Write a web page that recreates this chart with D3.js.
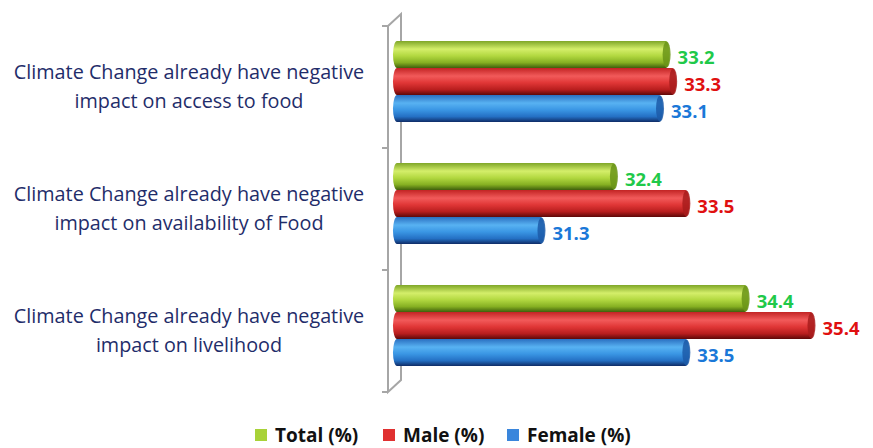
<!doctype html>
<meta charset="utf-8" />
<script src="https://cdn.jsdelivr.net/npm/d3@7"></script>
<style>
    body { margin: 0; background: white; }
    svg { display: block; font-family: "Open Sans", sans-serif; }
</style>
<svg id="chart"></svg>
<script>
    var categories = [
        ['Climate Change already have negative', 'impact on access to food'],
        ['Climate Change already have negative', 'impact on availability of Food'],
        ['Climate Change already have negative', 'impact on livelihood']
    ];
    var seriesNames = ['Total (%)', 'Male (%)', 'Female (%)'];
    var total = [33.2, 32.4, 34.4];
    var male = [33.3, 33.5, 35.4];
    var female = [33.1, 31.3, 33.5];

    var values = [total, male, female];
    var labelColors = ['#1fc94a', '#e01010', '#1a78d8'];
    var legendColors = ['#a8d238', '#e03030', '#3a86dc'];
    var grads = [
        ['#7fa628', '#d4ee6a', '#b2d840', '#86b022', '#3f5f0c'],
        ['#c22424', '#f25a5a', '#e03636', '#b81e1e', '#5e0808'],
        ['#2a6fc0', '#58b2f2', '#3a96e4', '#2470c4', '#0f2c66']
    ];
    var capColors = ['#6a9418', '#a81c1c', '#1c5aa8'];

    var W = 873, H = 448;
    var svg = d3.select('svg#chart').attr('width', W).attr('height', H);

    var defs = svg.append('defs');
    grads.forEach(function (g, i) {
        var lg = defs.append('linearGradient')
            .attr('id', 'g' + i)
            .attr('x1', 0).attr('y1', 0).attr('x2', 0).attr('y2', 1);
        [0, 0.3, 0.55, 0.8, 1].forEach(function (o, k) {
            lg.append('stop').attr('offset', o).attr('stop-color', g[k]);
        });
    });

    var x = d3.scaleLinear().domain([29, 36]).range([393, 854]);
    var y0 = d3.scaleBand().domain(d3.range(categories.length)).range([26, 392]);
    var y1 = d3.scaleBand().domain(d3.range(seriesNames.length)).range([15, 96]);

    // 3d wall of the axis
    var ax = svg.append('g').attr('stroke', '#a6a6a6').attr('stroke-width', 2).attr('fill', 'none');
    ax.append('path').attr('d', 'M388,26 L401,14 L401,380 L388,392 Z');
    ax.selectAll('line.tick')
        .data(d3.range(categories.length + 1))
        .enter().append('line')
        .attr('x1', 382).attr('x2', 388)
        .attr('y1', d => d === categories.length ? 392 : y0(d))
        .attr('y2', d => d === categories.length ? 392 : y0(d));

    var rows = [];
    categories.forEach(function (c, ci) {
        values.forEach(function (s, si) {
            rows.push({ c: ci, s: si, v: s[ci] });
        });
    });

    var bars = svg.append('g').selectAll('g')
        .data(rows)
        .enter().append('g')
        .attr('transform', d => 'translate(0,' + (y0(d.c) + y1(d.s)) + ')');

    var bh = y1.bandwidth();
    bars.append('rect')
        .attr('x', x(29))
        .attr('y', 0)
        .attr('width', d => x(d.v) - x(29))
        .attr('height', bh)
        .attr('rx', 4).attr('ry', bh / 2)
        .attr('fill', d => 'url(#g' + d.s + ')');
    bars.append('ellipse')
        .attr('cx', d => x(d.v) - 3)
        .attr('cy', bh / 2)
        .attr('rx', 4)
        .attr('ry', bh / 2 - 0.5)
        .attr('fill', d => capColors[d.s])
        .attr('opacity', 0.85);

    bars.append('text')
        .attr('x', d => x(d.v) + 8)
        .attr('y', bh / 2 + 9)
        .attr('font-size', 18.5)
        .attr('font-weight', 'bold')
        .attr('fill', d => labelColors[d.s])
        .text(d => d.v.toFixed(1));

    // category labels
    var cl = svg.append('g').selectAll('text')
        .data(categories)
        .enter().append('text')
        .attr('x', 189)
        .attr('y', (d, i) => y0(i) + y0.bandwidth() / 2 - 8)
        .attr('text-anchor', 'middle')
        .attr('font-size', 19.8)
        .attr('fill', '#1f2d6a');
    cl.selectAll('tspan')
        .data(d => d)
        .enter().append('tspan')
        .attr('x', 189)
        .attr('dy', (d, i) => i === 0 ? 0 : 29)
        .text(d => d);

    // legend
    var legX = [255, 383, 507];
    var leg = svg.append('g').selectAll('g')
        .data(seriesNames)
        .enter().append('g')
        .attr('transform', (d, i) => 'translate(' + legX[i] + ',429)');
    leg.append('rect').attr('width', 12).attr('height', 12).attr('fill', (d, i) => legendColors[i]);
    leg.append('text')
        .attr('x', 20).attr('y', 13)
        .attr('font-size', 19).attr('font-weight', 'bold').attr('fill', '#111')
        .text(d => d);
</script>
